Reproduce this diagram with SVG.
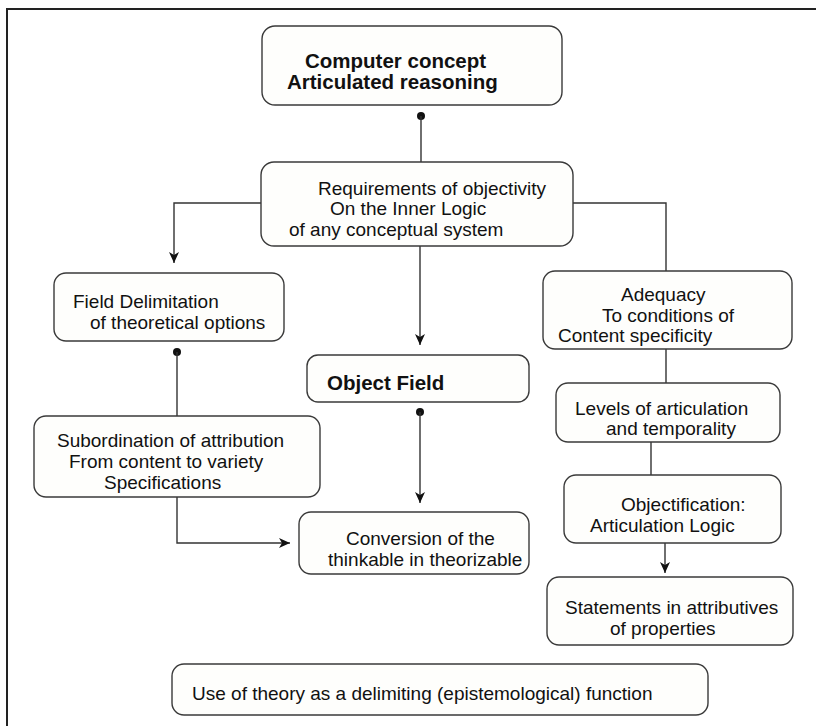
<svg xmlns="http://www.w3.org/2000/svg" width="816" height="726" viewBox="0 0 816 726">
<defs>
<style>
.box{fill:#fefefc;stroke:#3a3a3a;stroke-width:1.4}
.t{font-family:"Liberation Sans",Arial,sans-serif;font-size:19px;fill:#111}
.b{font-family:"Liberation Sans",Arial,sans-serif;font-size:20.5px;font-weight:bold;fill:#111}
.ln{fill:none;stroke:#333;stroke-width:1.4}
.dot{fill:#111}
</style>
<marker id="arr" markerUnits="userSpaceOnUse" markerWidth="12" markerHeight="12" refX="11" refY="5" orient="auto">
<path d="M0,0 L11,5 L0,10 L3,5 z" fill="#111"/>
</marker>
</defs>
<rect width="816" height="726" fill="#ffffff"/>
<g id="frame">
<path d="M816,9 H7 V726" fill="none" stroke="#222" stroke-width="2"/>
</g>
<g id="connectors">
<circle class="dot" cx="421" cy="116" r="4"/>
<path class="ln" d="M421,116 V162"/>
<path class="ln" d="M262,203 H174 V263" marker-end="url(#arr)"/>
<path class="ln" d="M420,246 V345" marker-end="url(#arr)"/>
<path class="ln" d="M573,203 H666 V271"/>
<circle class="dot" cx="177" cy="352" r="4"/>
<path class="ln" d="M177,352 V416"/>
<circle class="dot" cx="420" cy="412" r="4"/>
<path class="ln" d="M420,412 V503" marker-end="url(#arr)"/>
<path class="ln" d="M177,497 V543 H290" marker-end="url(#arr)"/>
<path class="ln" d="M666,349 V383"/>
<path class="ln" d="M651,442 V475"/>
<path class="ln" d="M665,543 V573" marker-end="url(#arr)"/>
</g>
<g id="n-computer">
<rect class="box" x="262" y="26" width="300" height="79" rx="13"/>
<text class="b" x="305" y="68">Computer concept</text>
<text class="b" x="287" y="89">Articulated reasoning</text>
</g>
<g id="n-requirements">
<rect class="box" x="261" y="162" width="312" height="84" rx="13"/>
<text class="t" x="318" y="195">Requirements of objectivity</text>
<text class="t" x="330" y="215">On the Inner Logic</text>
<text class="t" x="289" y="236">of any conceptual system</text>
</g>
<g id="n-field">
<rect class="box" x="54" y="273" width="230" height="68" rx="12"/>
<text class="t" x="73" y="308">Field Delimitation</text>
<text class="t" x="90" y="329">of theoretical options</text>
</g>
<g id="n-subordination">
<rect class="box" x="34" y="416" width="286" height="81" rx="12"/>
<text class="t" x="57" y="447">Subordination of attribution</text>
<text class="t" x="69" y="468">From content to variety</text>
<text class="t" x="104" y="489">Specifications</text>
</g>
<g id="n-object">
<rect class="box" x="307" y="355" width="222" height="47" rx="11"/>
<text class="b" x="327" y="390">Object Field</text>
</g>
<g id="n-conversion">
<rect class="box" x="299" y="512" width="230" height="62" rx="12"/>
<text class="t" x="346" y="545">Conversion of the</text>
<text class="t" x="328" y="566">thinkable in theorizable</text>
</g>
<g id="n-adequacy">
<rect class="box" x="543" y="271" width="249" height="78" rx="12"/>
<text class="t" x="621" y="301">Adequacy</text>
<text class="t" x="602" y="322">To conditions of</text>
<text class="t" x="558" y="342">Content specificity</text>
</g>
<g id="n-levels">
<rect class="box" x="556" y="383" width="224" height="59" rx="12"/>
<text class="t" x="575" y="415">Levels of articulation</text>
<text class="t" x="606" y="435">and temporality</text>
</g>
<g id="n-objectification">
<rect class="box" x="564" y="475" width="217" height="68" rx="12"/>
<text class="t" x="621" y="511">Objectification:</text>
<text class="t" x="590" y="532">Articulation Logic</text>
</g>
<g id="n-statements">
<rect class="box" x="547" y="577" width="246" height="68" rx="12"/>
<text class="t" x="565" y="614">Statements in attributives</text>
<text class="t" x="610" y="635">of properties</text>
</g>
<g id="n-use">
<rect class="box" x="172" y="664" width="536" height="51" rx="12"/>
<text class="t" x="192" y="700">Use of theory as a delimiting (epistemological) function</text>
</g>
</svg>
